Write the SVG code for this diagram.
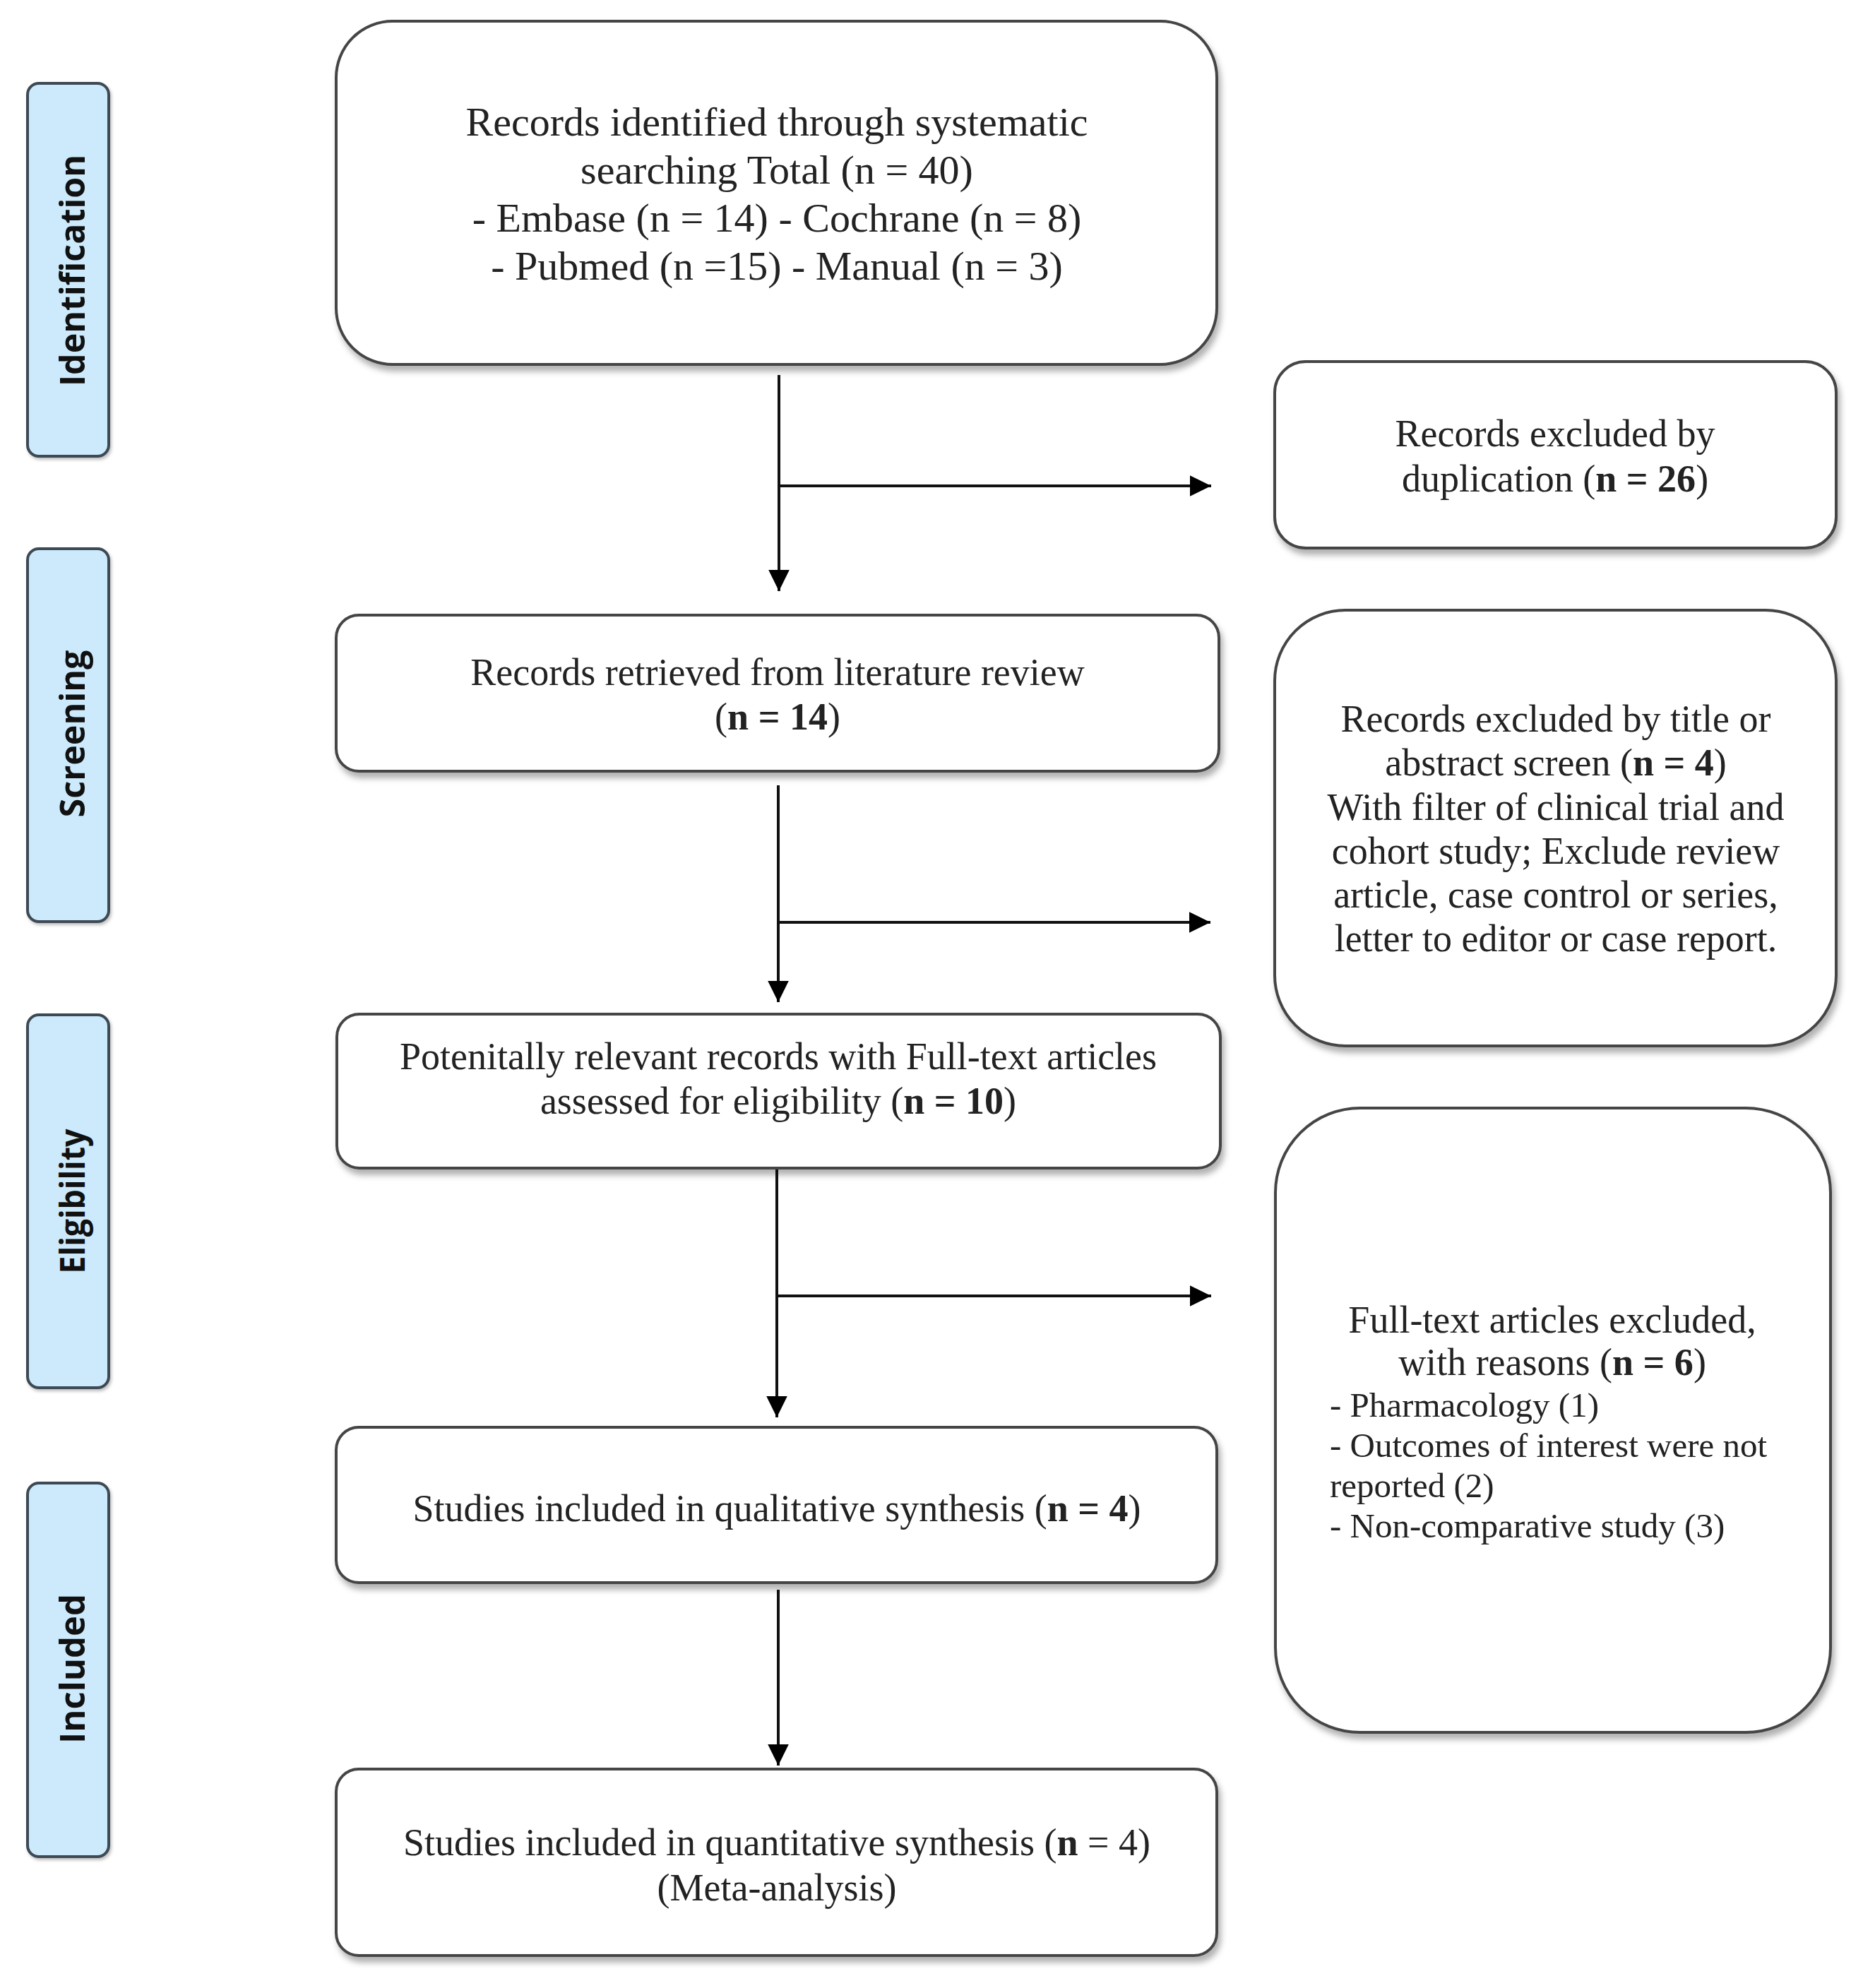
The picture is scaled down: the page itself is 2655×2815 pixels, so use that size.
<svg xmlns="http://www.w3.org/2000/svg" width="2655" height="2815" viewBox="0 0 2655 2815">
<style>
.box{fill:#fff;stroke:#444;stroke-width:4;filter:url(#sh)}
.phase{fill:#cceafc;stroke:#3d4a54;stroke-width:4;filter:url(#sh2)}
.t{font-family:"Liberation Serif","Times New Roman",serif;font-size:54px;fill:#222;text-anchor:middle}
.t58{font-size:58px}
.l{text-anchor:start;font-size:49px}
.b{font-weight:bold}
.pl{font-family:"Open Sans","DejaVu Sans",sans-serif;font-weight:bold;font-size:49px;fill:#111;text-anchor:middle}
.c{stroke:#111;stroke-width:4;fill:none}
</style>
<defs>
<filter id="sh" x="-10%" y="-10%" width="125%" height="130%">
<feDropShadow dx="4" dy="8" stdDeviation="4" flood-color="#000" flood-opacity="0.3"/>
</filter>
<filter id="sh2" x="-20%" y="-10%" width="150%" height="125%">
<feDropShadow dx="2" dy="3" stdDeviation="2" flood-color="#000" flood-opacity="0.25"/>
</filter>
<marker id="ah" markerWidth="8" markerHeight="8" refX="7.5" refY="4" orient="auto" markerUnits="strokeWidth">
<path d="M0,0.3 L7.5,4 L0,7.7 Z" fill="#000"/>
</marker>
</defs>
<rect width="2655" height="2815" fill="#fff"/>

<g id="phase-identification">
<rect class="phase" x="39" y="118" width="115" height="528" rx="16"/>
<text class="pl" x="120" y="383" transform="rotate(-90 120 383)" textLength="328" lengthAdjust="spacingAndGlyphs">Identification</text>
</g>
<g id="phase-screening">
<rect class="phase" x="39" y="777" width="115" height="528" rx="16"/>
<text class="pl" x="120" y="1039" transform="rotate(-90 120 1039)" textLength="237" lengthAdjust="spacingAndGlyphs">Screening</text>
</g>
<g id="phase-eligibility">
<rect class="phase" x="39" y="1437" width="115" height="528" rx="16"/>
<text class="pl" x="120" y="1701" transform="rotate(-90 120 1701)" textLength="205" lengthAdjust="spacingAndGlyphs">Eligibility</text>
</g>
<g id="phase-included">
<rect class="phase" x="39" y="2100" width="115" height="529" rx="16"/>
<text class="pl" x="120" y="2363" transform="rotate(-90 120 2363)" textLength="212" lengthAdjust="spacingAndGlyphs">Included</text>
</g>

<g id="connectors">
<line class="c" x1="1103" y1="531" x2="1103" y2="837" marker-end="url(#ah)"/>
<line class="c" x1="1103" y1="688" x2="1715" y2="688" marker-end="url(#ah)"/>
<line class="c" x1="1102" y1="1112" x2="1102" y2="1419" marker-end="url(#ah)"/>
<line class="c" x1="1102" y1="1306" x2="1714" y2="1306" marker-end="url(#ah)"/>
<line class="c" x1="1100" y1="1656" x2="1100" y2="2007" marker-end="url(#ah)"/>
<line class="c" x1="1100" y1="1835" x2="1715" y2="1835" marker-end="url(#ah)"/>
<line class="c" x1="1102" y1="2251" x2="1102" y2="2500" marker-end="url(#ah)"/>
</g>

<g id="node-identified">
<rect class="box" x="476" y="30" width="1247" height="486" rx="80"/>
<text class="t t58" x="1100" y="192">Records identified through systematic</text>
<text class="t t58" x="1100" y="260">searching Total (n = 40)</text>
<text class="t t58" x="1100" y="328">- Embase (n = 14) - Cochrane (n = 8)</text>
<text class="t t58" x="1100" y="396">- Pubmed (n =15) - Manual (n = 3)</text>
</g>

<g id="node-duplicates">
<rect class="box" x="1805" y="512" width="795" height="264" rx="44"/>
<text class="t" x="2202" y="632">Records excluded by</text>
<text class="t" x="2202" y="696">duplication (<tspan class="b">n = 26</tspan>)</text>
</g>

<g id="node-retrieved">
<rect class="box" x="476" y="871" width="1250" height="221" rx="32"/>
<text class="t" x="1101" y="970">Records retrieved from literature review</text>
<text class="t" x="1101" y="1033">(<tspan class="b">n = 14</tspan>)</text>
</g>

<g id="node-title-excluded">
<rect class="box" x="1805" y="864" width="795" height="617" rx="100"/>
<text class="t" x="2203" y="1036">Records excluded by title or</text>
<text class="t" x="2203" y="1098">abstract screen (<tspan class="b">n = 4</tspan>)</text>
<text class="t" x="2203" y="1161">With filter of clinical trial and</text>
<text class="t" x="2203" y="1223">cohort study; Exclude review</text>
<text class="t" x="2203" y="1285">article, case control or series,</text>
<text class="t" x="2203" y="1347">letter to editor or case report.</text>
</g>

<g id="node-fulltext">
<rect class="box" x="477" y="1436" width="1251" height="218" rx="32"/>
<text class="t" x="1102" y="1514">Potenitally relevant records with Full-text articles</text>
<text class="t" x="1102" y="1577">assessed for eligibility (<tspan class="b">n = 10</tspan>)</text>
</g>

<g id="node-fulltext-excluded">
<rect class="box" x="1806" y="1569" width="786" height="884" rx="120"/>
<text class="t" x="2198" y="1887">Full-text articles excluded,</text>
<text class="t" x="2198" y="1947">with reasons (<tspan class="b">n = 6</tspan>)</text>
<text class="t l" x="1883" y="2006">- Pharmacology (1)</text>
<text class="t l" x="1883" y="2063">- Outcomes of interest were not</text>
<text class="t l" x="1883" y="2120">reported (2)</text>
<text class="t l" x="1883" y="2177">- Non-comparative study (3)</text>
</g>

<g id="node-qualitative">
<rect class="box" x="476" y="2021" width="1247" height="220" rx="32"/>
<text class="t" x="1100" y="2154">Studies included in qualitative synthesis (<tspan class="b">n = 4</tspan>)</text>
</g>

<g id="node-quantitative">
<rect class="box" x="476" y="2505" width="1247" height="264" rx="32"/>
<text class="t" x="1100" y="2627">Studies included in quantitative synthesis (<tspan class="b">n</tspan> = 4)</text>
<text class="t" x="1100" y="2691">(Meta-analysis)</text>
</g>
</svg>
